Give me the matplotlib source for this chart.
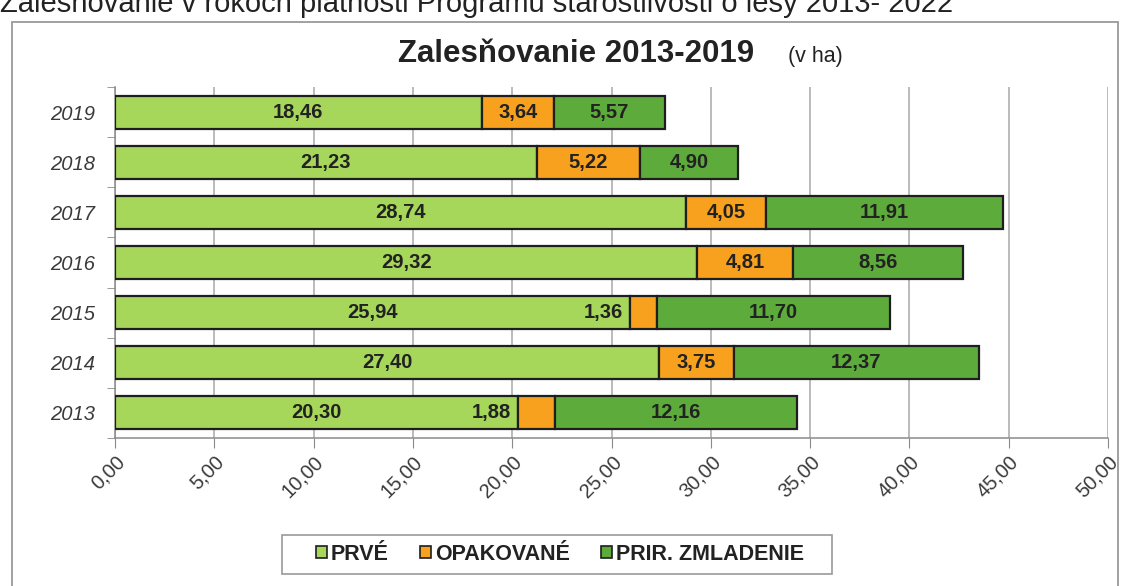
import matplotlib
matplotlib.use("Agg")
import matplotlib.pyplot as plt
from matplotlib.patches import Rectangle, Patch

plt.rcParams['font.family'] = ['Liberation Sans', 'DejaVu Sans']

years = ['2013', '2014', '2015', '2016', '2017', '2018', '2019']
prve = [20.30, 27.40, 25.94, 29.32, 28.74, 21.23, 18.46]
opakovane = [1.88, 3.75, 1.36, 4.81, 4.05, 5.22, 3.64]
prir = [12.16, 12.37, 11.70, 8.56, 11.91, 4.90, 5.57]
series_names = ['PRVÉ', 'OPAKOVANÉ', 'PRIR. ZMLADENIE']
xticks = [0, 5, 10, 15, 20, 25, 30, 35, 40, 45, 50]

colors = ['#A6D65A', '#F7A11E', '#5DAC3B']
W, H = 1128, 586

fig = plt.figure(figsize=(W / 100, H / 100), dpi=100)
fig.patch.set_facecolor('white')

# outer frame
fig.add_artist(Rectangle((12 / W, -0.05), (1118 - 12) / W, 1.05 - 22 / H,
                         transform=fig.transFigure, fill=False,
                         edgecolor='#9a9a9a', lw=1.3))

# cut-off heading at top
fig.text(0 / W, 1 - 12 / H,
         'Zalesňovanie v rokoch platnosti Programu starostlivosti o lesy 2013- 2022',
         ha='left', va='baseline', fontsize=21, color='#222222')

# title
fig.text(398 / W, 1 - 62 / H, 'Zalesňovanie 2013-2019', ha='left', va='baseline',
         fontsize=22.5, fontweight='bold', color='#222222')
fig.text(788 / W, 1 - 62 / H, '(v ha)', ha='left', va='baseline',
         fontsize=15.5, color='#222222')

ax = fig.add_axes([115 / W, 1 - 438 / H, (1108 - 115) / W, (438 - 87) / H])
ypos = list(range(len(years)))
bh = 0.66
left = [0.0] * len(years)
for vals, col in zip([prve, opakovane, prir], colors):
    ax.barh(ypos, vals, left=left, height=bh, color=col, edgecolor='#1e1e1e',
            lw=1.6, zorder=3)
    left = [l + v for l, v in zip(left, vals)]


def fmt(v):
    return f"{v:.2f}".replace('.', ',')


for i in ypos:
    start = 0.0
    for j, vals in enumerate([prve, opakovane, prir]):
        v = vals[i]
        if v < 2.0:
            ax.annotate(fmt(v), (start, i), xytext=(-5, 0), textcoords='offset points',
                        ha='right', va='center', fontsize=14.5, fontweight='bold',
                        color='#222222', zorder=5)
        else:
            ax.text(start + v / 2, i, fmt(v), ha='center', va='center', fontsize=14.5,
                    fontweight='bold', color='#222222', zorder=5)
        start += v

ax.set_xlim(0, 50)
ax.set_ylim(-0.5, len(years) - 0.5)
ax.set_xticks(xticks)
ax.set_xticklabels([fmt(x) for x in xticks], rotation=45, ha='right', va='top',
                   rotation_mode='anchor', fontsize=14.5, color='#3a3a3a')
ax.tick_params(axis='x', length=7, color='#8a8a8a', pad=3)
ax.set_yticks(ypos)
ax.set_yticklabels(years, fontsize=14.5, style='italic', color='#3a3a3a')
ax.tick_params(axis='y', which='major', length=0, pad=14)
ax.set_yticks([y - 0.5 for y in ypos] + [len(years) - 0.5], minor=True)
ax.tick_params(axis='y', which='minor', length=6, color='#8a8a8a')

ax.grid(axis='x', color='#a8a8a8', lw=1.1, zorder=0)
for s in ['top', 'right']:
    ax.spines[s].set_visible(False)
for s in ['left', 'bottom']:
    ax.spines[s].set_color('#8a8a8a')
    ax.spines[s].set_linewidth(1.1)

# legend frame
fig.add_artist(Rectangle((282 / W, 1 - 574 / H), (832 - 282) / W, (574 - 535) / H,
                         transform=fig.transFigure, fill=False,
                         edgecolor='#9a9a9a', lw=1.2))
handles = [Patch(facecolor=c, edgecolor='#1e1e1e', lw=1.2) for c in colors]
leg = fig.legend(handles, series_names, loc='center', ncol=3,
                 bbox_to_anchor=(560 / W, 1 - 554.5 / H),
                 prop={'size': 15.5, 'weight': 'bold'}, frameon=False,
                 handlelength=0.5, handleheight=0.5, handletextpad=0.2,
                 columnspacing=1.45, borderpad=0.3, borderaxespad=0)
for t in leg.get_texts():
    t.set_color('#222222')

fig.savefig('out.png', dpi=100, facecolor='white')
